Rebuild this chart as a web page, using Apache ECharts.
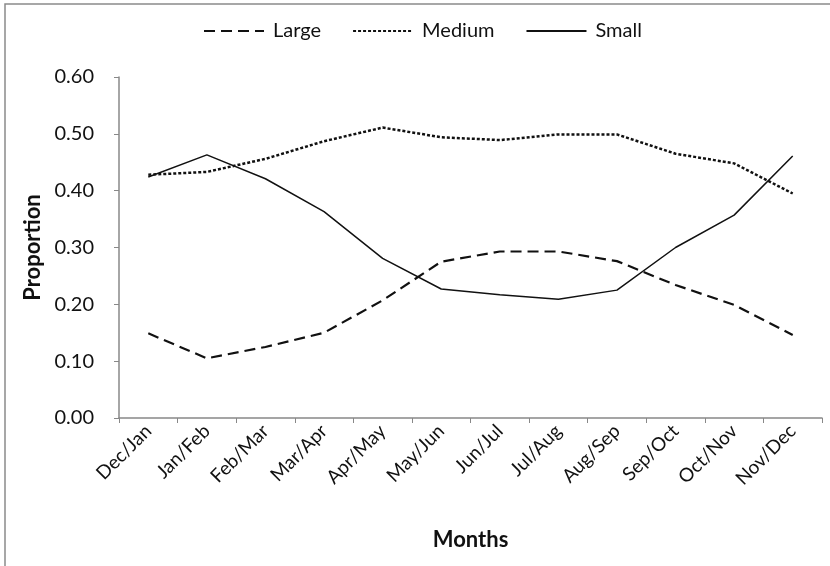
<!DOCTYPE html>
<html><head><meta charset="utf-8">
<script src="https://cdn.jsdelivr.net/npm/echarts@6/dist/echarts.min.js"></script>
<style>html,body{margin:0;padding:0;background:#fff}#c{width:830px;height:566px}</style>
</head><body><div id="c"></div>
<script>
const categories = ['Dec/Jan','Jan/Feb','Feb/Mar','Mar/Apr','Apr/May','May/Jun','Jun/Jul','Jul/Aug','Aug/Sep','Sep/Oct','Oct/Nov','Nov/Dec'];
const large  = [0.149,0.105,0.125,0.150,0.207,0.275,0.293,0.293,0.276,0.234,0.199,0.146];
const medium = [0.428,0.433,0.456,0.487,0.511,0.494,0.489,0.499,0.499,0.465,0.448,0.395];
const small  = [0.424,0.463,0.421,0.363,0.281,0.227,0.217,0.209,0.225,0.300,0.357,0.461];
const yTicks = [0,0.1,0.2,0.3,0.4,0.5,0.6];

const font = 'Lato, "Open Sans", sans-serif';
const chart = echarts.init(document.getElementById('c'), null, {renderer:'canvas'});
chart.setOption({
  animation:false,
  backgroundColor:'#fff',
  graphic:[{type:'rect', shape:{x:5,y:4,width:840,height:580}, style:{fill:'none', stroke:'#8a8a8a', lineWidth:1.5}, silent:true}],
  legend:{
    top:16, left:198, itemWidth:60, itemHeight:14, itemGap:31,
    itemStyle:{color:'transparent', borderColor:'transparent', borderWidth:0},
    textStyle:{fontFamily:font, fontSize:20, color:'#111', padding:[0,0,0,4]},
    data:['Large','Medium','Small']
  },
  grid:{left:119, right:8, top:77, bottom:148, containLabel:false},
  xAxis:{
    type:'category', data:categories, boundaryGap:true,
    name:'Months', nameLocation:'middle', nameGap:111,
    nameTextStyle:{fontFamily:font, fontSize:22, fontWeight:'bold', color:'#111'},
    axisLine:{lineStyle:{color:'#888', width:1.5}},
    axisTick:{show:true, alignWithLabel:false, length:5, lineStyle:{color:'#888'}},
    axisLabel:{rotate:45, fontFamily:font, fontSize:19, color:'#111', margin:10, interval:0}
  },
  yAxis:{
    type:'value', min:0, max:0.6, interval:0.1,
    name:'Proportion', nameLocation:'middle', nameGap:75,
    nameTextStyle:{fontFamily:font, fontSize:22, fontWeight:'bold', color:'#111'},
    axisLine:{show:true, lineStyle:{color:'#888', width:1.5}},
    axisTick:{show:true, inside:false, length:5, lineStyle:{color:'#888'}},
    splitLine:{show:false},
    axisLabel:{fontFamily:font, fontSize:20, color:'#111', margin:25,
      formatter:v=>{const t=yTicks.find(x=>Math.abs(x-v)<1e-9); return (t!==undefined?t:v).toFixed(2);}}
  },
  series:[
    {name:'Large', type:'line', data:large, symbol:'none', lineStyle:{color:'#111', width:2.2, type:[11,6]}, itemStyle:{color:'#111'}},
    {name:'Medium', type:'line', data:medium, symbol:'none', lineStyle:{color:'#111', width:2.5, type:[3,2]}, itemStyle:{color:'#111'}},
    {name:'Small', type:'line', data:small, symbol:'none', lineStyle:{color:'#111', width:1.5, type:'solid'}, itemStyle:{color:'#111'}}
  ]
});
</script></body></html>
